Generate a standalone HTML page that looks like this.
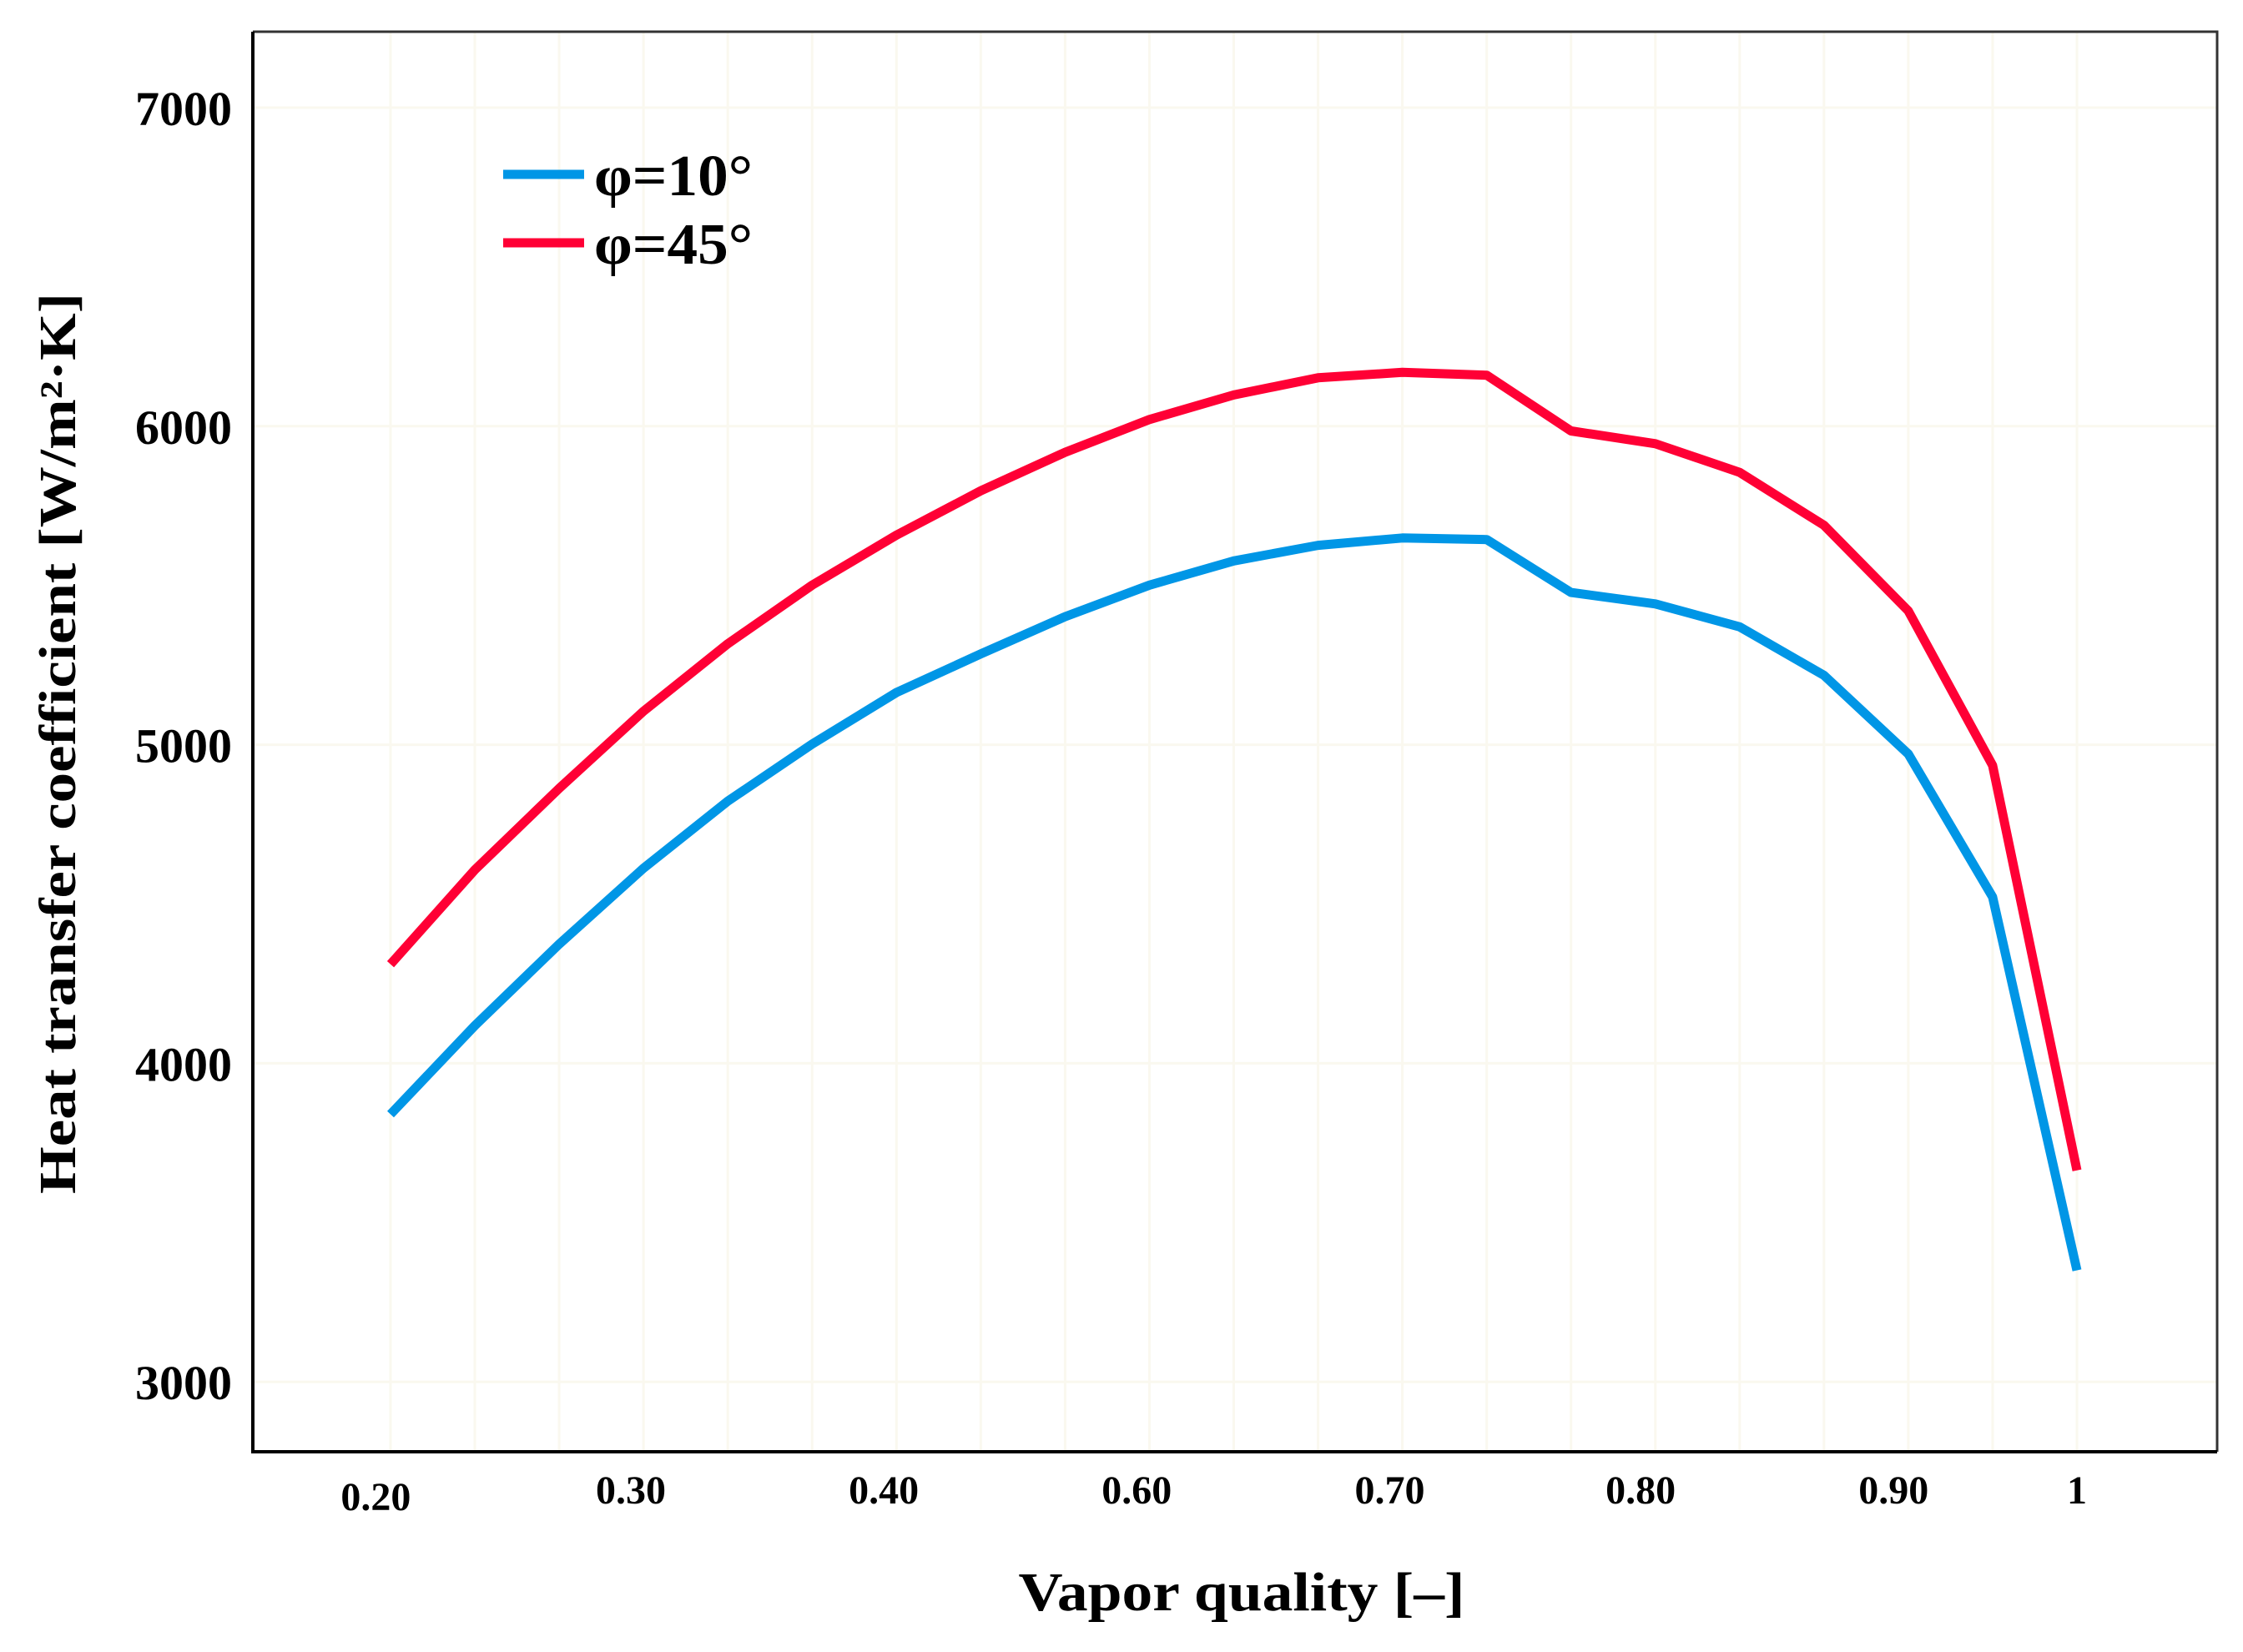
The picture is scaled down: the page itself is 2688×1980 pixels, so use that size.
<!DOCTYPE html>
<html><head><meta charset="utf-8"><style>
html,body{margin:0;padding:0;background:#fff;}
svg{display:block;font-family:"Liberation Serif",serif;font-weight:bold;}
</style></head><body>
<svg id="chart" width="2688" height="1980" viewBox="0 0 2688 1980" xmlns="http://www.w3.org/2000/svg">
<rect width="2688" height="1980" fill="#fff"/>
<g id="grid"></g>
<g id="series"></g>
<g id="axes"></g>
<g>
<line x1="603" y1="209" x2="700" y2="209" stroke="#0096e6" stroke-width="11"/>
<text x="712" y="234" font-size="70" textLength="190" lengthAdjust="spacingAndGlyphs">φ=10°</text>
<line x1="603" y1="291" x2="700" y2="291" stroke="#ff0035" stroke-width="11"/>
<text x="712" y="316" font-size="70" textLength="190" lengthAdjust="spacingAndGlyphs">φ=45°</text>
</g>
<text transform="translate(90,891) rotate(-90)" text-anchor="middle" font-size="62" textLength="1080" lengthAdjust="spacingAndGlyphs">Heat transfer coefficient [W/m²·K]</text>
<text x="1488" y="1930" text-anchor="middle" font-size="66" textLength="535" lengthAdjust="spacingAndGlyphs">Vapor quality [–]</text>
</svg>
<script>
const xValues=[0.20,0.24,0.28,0.32,0.36,0.40,0.44,0.48,0.52,0.56,0.60,0.64,0.68,0.72,0.76,0.80,0.84,0.88,0.92,0.96,1.00];
const phi10=[3840,4118,4374,4612,4823,5002,5164,5285,5402,5501,5577,5626,5649,5644,5478,5442,5370,5218,4971,4522,3350];
const phi45=[4311,4607,4863,5105,5317,5501,5658,5797,5918,6021,6098,6152,6169,6160,5985,5945,5855,5689,5420,4935,3664];
const yTicks=[3000,4000,5000,6000,7000];
const xTickLabels=["0.20","0.30","0.40","0.60","0.70","0.80","0.90","1"];
const xTickAt=[0.193,0.314,0.434,0.554,0.674,0.793,0.913,1.0];

const L=303,T=38,R=2657,B=1740;
function sx(v){return 468+(v-0.2)/0.8*(2489-468);}
function sy(v){return 129+(7000-v)*0.3818;}
const NS="http://www.w3.org/2000/svg";
function mk(tag,attrs,parent){const e=document.createElementNS(NS,tag);for(const k in attrs)e.setAttribute(k,attrs[k]);parent.appendChild(e);return e;}
const grid=document.getElementById('grid'),axes=document.getElementById('axes'),series=document.getElementById('series');
xValues.forEach(v=>{const g=mk('line',{x1:sx(v),x2:sx(v),y1:T,y2:B,stroke:'#faf8ef','stroke-width':3},grid);

});
yTicks.forEach(v=>{const g=mk('line',{x1:L,x2:R,y1:sy(v),y2:sy(v),stroke:'#faf8ef','stroke-width':3},grid);


const t=mk('text',{x:278,y:sy(v)+21,'text-anchor':'end','font-size':58},axes);t.textContent=v;

});
xTickLabels.forEach((s,i)=>{const t=mk('text',{x:sx(xTickAt[i]),y:i===0?1810:1802,'text-anchor':'middle','font-size':48},axes);t.textContent=s;

});
const fr=mk('path',{d:`M${L} ${T} H${R} V${B}`,fill:'none',stroke:'#333','stroke-width':3},axes);


const ax=mk('path',{d:`M${L} ${T} V${B} H${R}`,fill:'none',stroke:'#000','stroke-width':4},axes);


function line(vals,color,name){const d=vals.map((v,i)=>(i?'L':'M')+sx(xValues[i]).toFixed(1)+' '+sy(v).toFixed(1)).join(' ');
const p=mk('path',{d:d,fill:'none',stroke:color,'stroke-width':11,'stroke-linejoin':'round'},series);

}
line(phi10,'#0096e6','line-phi10');
line(phi45,'#ff0035','line-phi45');
</script>
</body></html>
